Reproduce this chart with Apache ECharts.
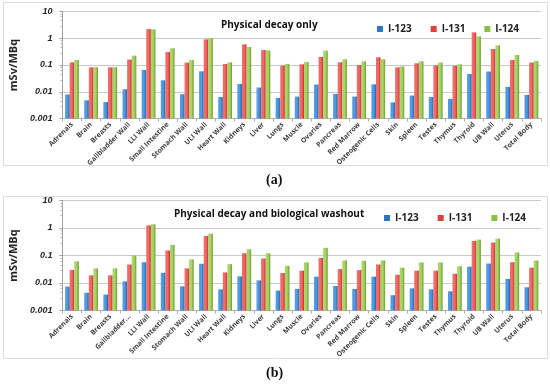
<!DOCTYPE html>
<html><head><meta charset="utf-8">
<script src="https://cdn.jsdelivr.net/npm/echarts@6/dist/echarts.min.js"></script>
<style>html,body{margin:0;padding:0;background:#fff}#c{width:550px;height:384px}</style>
</head><body><div id="c"></div>
<script>
const categoriesA = ["Adrenals","Brain","Breasts","Gallbladder Wall","LLI Wall","Small Intestine","Stomach Wall","ULI Wall","Heart Wall","Kidneys","Liver","Lungs","Muscle","Ovaries","Pancreas","Red Marrow","Osteogenic Cells","Skin","Spleen","Testes","Thymus","Thyroid","UB Wall","Uterus","Total Body"];
const categoriesB = ["Adrenals","Brain","Breasts","Gallbladder...","LLI Wall","Small Intestine","Stomach Wall","ULI Wall","Heart Wall","Kidneys","Liver","Lungs","Muscle","Ovaries","Pancreas","Red Marrow","Osteogenic Cells","Skin","Spleen","Testes","Thymus","Thyroid","UB Wall","Uterus","Total Body"];
const seriesNames = ["I-123","I-131","I-124"];
// (a) Physical decay only
const a_I123 = [0.0079,0.0048,0.0041,0.0124,0.065,0.0268,0.0081,0.058,0.0064,0.0195,0.0144,0.0059,0.0066,0.0186,0.0083,0.0066,0.019,0.0040,0.0072,0.0064,0.0054,0.046,0.057,0.0152,0.0076];
const a_I131 = [0.126,0.082,0.082,0.159,2.2,0.305,0.123,0.91,0.109,0.59,0.363,0.095,0.106,0.199,0.126,0.10,0.194,0.082,0.116,0.097,0.095,1.66,0.395,0.154,0.123];
const a_I124 = [0.154,0.083,0.083,0.224,2.15,0.42,0.154,1.0,0.126,0.47,0.35,0.11,0.129,0.344,0.163,0.137,0.163,0.089,0.137,0.123,0.106,1.18,0.543,0.236,0.141];
// (b) Physical decay and biological washout
const b_I123 = [0.0074,0.0044,0.0038,0.0115,0.057,0.0236,0.0076,0.050,0.0059,0.0174,0.0125,0.0053,0.0061,0.017,0.0078,0.0061,0.017,0.0036,0.0064,0.0059,0.0050,0.039,0.051,0.014,0.0070];
const b_I131 = [0.030,0.019,0.019,0.047,1.25,0.152,0.034,0.514,0.0243,0.121,0.078,0.023,0.028,0.082,0.032,0.0295,0.047,0.020,0.028,0.028,0.0217,0.339,0.295,0.057,0.036];
const b_I124 = [0.061,0.034,0.034,0.100,1.36,0.243,0.072,0.62,0.0486,0.169,0.121,0.042,0.056,0.19,0.066,0.064,0.066,0.036,0.056,0.056,0.041,0.378,0.41,0.128,0.066];
const yTicks = ["0.001","0.01","0.1","1","10"];
const yMin = 0.001;

const colors = [
  {c0:'#4f9ae0', c1:'#1f66b3', legend:'#2a78c8'},
  {c0:'#f06a66', c1:'#c92e2e', legend:'#e0403f'},
  {c0:'#a8d468', c1:'#6f9d2e', legend:'#8cc045'}
];
function grad(i){return new echarts.graphic.LinearGradient(0,0,1,0,[{offset:0,color:colors[i].c0},{offset:0.5,color:colors[i].c0},{offset:1,color:colors[i].c1}]);}

const chart = echarts.init(document.getElementById('c'), null, {renderer:'canvas'});
function xAxis(idx, cats){
  return {type:'category', gridIndex:idx, data:cats,
    axisLine:{lineStyle:{color:'#b0b0b0'}},
    axisTick:{show:true, interval:0, length:3, lineStyle:{color:'#b0b0b0'}},
    axisLabel:{interval:0, rotate:45, fontSize:7, fontWeight:'bold', color:'#404040', fontFamily:'Open Sans', margin:5}};
}
function yAxis(idx){
  return {type:'log', gridIndex:idx, min:yMin, max:10, logBase:10, startValue:yMin,
    name:'mSv/MBq', nameLocation:'middle', nameGap:30,
    nameTextStyle:{fontSize:11, fontWeight:'bold', color:'#222', fontFamily:'Open Sans'},
    axisLine:{show:true, lineStyle:{color:'#a0a0a0'}},
    axisTick:{show:true, length:3, lineStyle:{color:'#a0a0a0'}},
    minorTick:{show:true, splitNumber:5, length:2, lineStyle:{color:'#b8b8b8'}},
    splitLine:{show:true, lineStyle:{color:'#c8c8c8', width:1}},
    axisLabel:{fontSize:9, fontStyle:'italic', fontWeight:'bold', color:'#222', fontFamily:'Liberation Sans', margin:10,
      formatter:function(v){const s=String(+v.toPrecision(3)); return yTicks.indexOf(s)>=0?s:'';}}};
}
// Stacked on an invisible base so bars rise from the axis minimum (0.001) on the log scale.
function bars(idx, dataArr){
  const out = [];
  dataArr.forEach((d,i)=>{
    const stackId = 's'+idx+'_'+i;
    out.push({name:'base', type:'bar', stack:stackId, xAxisIndex:idx, yAxisIndex:idx,
      data:d.map(()=>yMin), barGap:'0%', barCategoryGap:'28%', itemStyle:{color:'rgba(0,0,0,0)'}, silent:true, legendHoverLink:false});
    out.push({name:seriesNames[i], type:'bar', stack:stackId, xAxisIndex:idx, yAxisIndex:idx,
      data:d.map(v=>v-yMin), barGap:'0%', barCategoryGap:'28%', itemStyle:{color:grad(i)}});
  });
  return out;
}
const legendStyle = {icon:'rect', itemWidth:6, itemHeight:6, itemGap:19, orient:'horizontal',
  textStyle:{fontSize:10, fontWeight:'bold', color:'#222', fontFamily:'Open Sans'},
  data:seriesNames.map((n,i)=>({name:n, itemStyle:{color:colors[i].legend}}))};

chart.setOption({
  animation:false,
  title:[
    {text:'Physical decay only', left:216, top:15, textStyle:{fontSize:10, fontWeight:'bold', color:'#111', fontFamily:'Open Sans'}},
    {text:'Physical decay and biological washout', left:169, top:204, textStyle:{fontSize:10, fontWeight:'bold', color:'#111', fontFamily:'Open Sans'}}
  ],
  legend:[Object.assign({left:372, top:19}, legendStyle), Object.assign({left:379, top:208}, legendStyle)],
  grid:[{left:47, top:11.5, width:494, height:107},{left:47, top:200.5, width:494, height:110}],
  xAxis:[xAxis(0, categoriesA), xAxis(1, categoriesB)],
  yAxis:[yAxis(0), yAxis(1)],
  series:[...bars(0,[a_I123,a_I131,a_I124]), ...bars(1,[b_I123,b_I131,b_I124])],
  graphic:[
    {type:'rect', shape:{x:3.5,y:2.5,width:544,height:163}, style:{fill:'none', stroke:'#dcdcdc', lineWidth:1}, silent:true},
    {type:'rect', shape:{x:3.5,y:196.5,width:544,height:162}, style:{fill:'none', stroke:'#dcdcdc', lineWidth:1}, silent:true},
    {type:'text', left:266, top:173, style:{text:'(a)', font:'bold 14px "Liberation Serif"', fill:'#111'}},
    {type:'text', left:266, top:366, style:{text:'(b)', font:'bold 14px "Liberation Serif"', fill:'#111'}}
  ]
});
</script></body></html>
